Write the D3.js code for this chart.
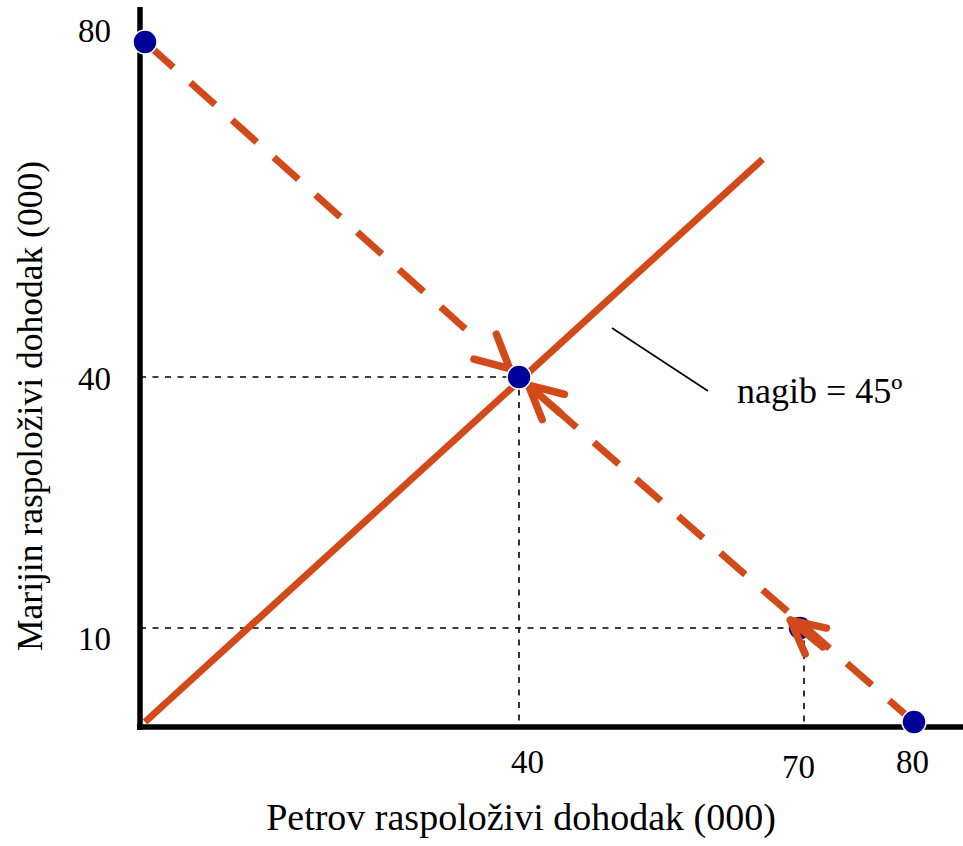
<!DOCTYPE html>
<html>
<head>
<meta charset="utf-8">
<script src="https://cdn.jsdelivr.net/npm/d3@7"></script>
<style>
  html, body { margin: 0; padding: 0; background: #fff; }
  svg { display: block; }
  text { font-family: "Liberation Serif", "Times New Roman", serif; fill: #000; }
</style>
</head>
<body>
<div id="chart"></div>
<script>
// Data (thousands)
const xTicks = [40, 70, 80];
const yTicks = [10, 40, 80];
// income points: all to Maria, equal split, Peter 70 / Maria 10, all to Peter
const points = [
  { id: "A", x: 0, y: 80 },
  { id: "E", x: 40, y: 40 },
  { id: "B", x: 70, y: 10 },
  { id: "C", x: 80, y: 0 }
];
// dashed budget moves towards the equal split
const moves = [
  { from: [0, 80], to: [40, 40] },
  { from: [80, 0], to: [40, 40] }
];
// arrowheads: [on point, coming from]
const arrows = [
  { at: [40, 40], from: [0, 80], shaft: false, side: "before" },
  { at: [40, 40], from: [80, 0], shaft: true, side: "before" },
  { at: [70, 10], from: [80, 0], shaft: true, side: "after" }
];
// 45 degree line
const diagonal = [[0, 0], [66, 66]];
const guides = [[40, 40], [70, 10]];
const xTitle = "Petrov raspoloživi dohodak (000)";
const yTitle = "Marijin raspoloživi dohodak (000)";
const note = "nagib = 45º";

// Layout
const width = 963, height = 846;
const axisX = 140, axisY = 727;
const orange = "#d24a1a", navy = "#000099";

const svg = d3.select("#chart").append("svg")
  .attr("width", width).attr("height", height);

// the drawing is not perfectly linear, so piecewise scales
const x = d3.scaleLinear().domain([0, 40, 70, 80]).range([145, 519, 800, 914]);
const y = d3.scaleLinear().domain([0, 10, 40, 80]).range([722, 628, 377, 42]);

const line = d3.line().x(d => x(d[0])).y(d => y(d[1]));

// dashed guide lines to the axes
const gGuides = svg.append("g")
  .attr("stroke", "#000").attr("stroke-width", 1.6)
  .attr("stroke-dasharray", "6,6.5").attr("fill", "none");
guides.forEach(g => {
  gGuides.append("line")
    .attr("x1", axisX).attr("y1", y(g[1]))
    .attr("x2", x(g[0]) - 8).attr("y2", y(g[1]));
  gGuides.append("line")
    .attr("x1", x(g[0]) + (g[0] === 70 ? 4 : 0)).attr("y1", y(g[1]))
    .attr("x2", x(g[0]) + (g[0] === 70 ? 4 : 0)).attr("y2", axisY);
});

// axes frame
svg.append("line")
  .attr("x1", axisX).attr("y1", 7).attr("x2", axisX).attr("y2", axisY + 3)
  .attr("stroke", "#000").attr("stroke-width", 5.5);
svg.append("line")
  .attr("x1", axisX - 3).attr("y1", axisY).attr("x2", width).attr("y2", axisY)
  .attr("stroke", "#000").attr("stroke-width", 5.5);

// 45 degree line
svg.append("path")
  .attr("d", line(diagonal))
  .attr("fill", "none").attr("stroke", orange).attr("stroke-width", 7);

// point under the arrow
const dot = (sel) => sel
  .attr("cx", d => x(d.x)).attr("cy", d => y(d.y)).attr("r", 12)
  .attr("fill", navy).attr("stroke", "#fff").attr("stroke-width", 1.5);
svg.append("g").selectAll("circle")
  .data(points.filter(p => p.id === "B"))
  .join("circle").call(dot);

// dashed moves
const unit = (a, b) => {
  const dx = x(b[0]) - x(a[0]), dy = y(b[1]) - y(a[1]);
  const l = Math.hypot(dx, dy);
  return [dx / l, dy / l, l];
};
moves.forEach((m, i) => {
  const [ux, uy, len] = unit(m.from, m.to);
  const trim = i === 0 ? 60 : 12;
  svg.append("line")
    .attr("x1", x(m.from[0])).attr("y1", y(m.from[1]))
    .attr("x2", x(m.from[0]) + ux * (len - trim))
    .attr("y2", y(m.from[1]) + uy * (len - trim))
    .attr("stroke", orange).attr("stroke-width", 7)
    .attr("stroke-dasharray", "33,23").attr("stroke-dashoffset", i === 0 ? 51 : 0);
});

// arrowheads
const rot = (v, a) => [v[0] * Math.cos(a) - v[1] * Math.sin(a), v[0] * Math.sin(a) + v[1] * Math.cos(a)];
const gArrows = svg.append("g")
  .attr("fill", "none").attr("stroke", orange).attr("stroke-width", 7.5)
  .attr("stroke-linecap", "round").attr("stroke-linejoin", "round");
arrows.forEach(a => {
  const [ux, uy] = unit(a.from, a.at);
  const off = a.side === "before" ? -12.5 : 12.5;
  const tip = [x(a.at[0]) + ux * off, y(a.at[1]) + uy * off];
  const back = [-ux, -uy];
  const L = 37, ang = 27 * Math.PI / 180;
  const b1 = rot(back, ang), b2 = rot(back, -ang);
  let d = `M${tip[0] + b1[0] * L},${tip[1] + b1[1] * L}L${tip[0]},${tip[1]}L${tip[0] + b2[0] * L},${tip[1] + b2[1] * L}`;
  if (a.shaft) d += `M${tip[0]},${tip[1]}L${tip[0] + back[0] * 42},${tip[1] + back[1] * 42}`;
  gArrows.append("path").attr("d", d);
});

// remaining points on top
svg.append("g").selectAll("circle")
  .data(points.filter(p => p.id !== "B"))
  .join("circle").call(dot);

// tick labels
const yNudge = { 80: -12, 40: 1, 10: 10 };
const gy = svg.append("g").attr("transform", `translate(${axisX},0)`)
  .call(d3.axisLeft(y).tickValues(yTicks).tickSize(0).tickPadding(29).tickFormat(d3.format("d")));
gy.select(".domain").remove();
gy.selectAll("text")
  .attr("font-family", null).attr("font-size", 33)
  .attr("dy", d => 11 + yNudge[d]);

const xNudge = { 40: 8, 70: -2, 80: -2 };
const xBase = { 40: 46, 70: 51, 80: 46 };
const gx = svg.append("g").attr("transform", `translate(0,${axisY})`)
  .call(d3.axisBottom(x).tickValues(xTicks).tickSize(0).tickPadding(0).tickFormat(d3.format("d")));
gx.select(".domain").remove();
gx.selectAll("text")
  .attr("font-family", null).attr("font-size", 33)
  .attr("y", d => xBase[d]).attr("dy", 0)
  .attr("x", d => xNudge[d]);

// axis titles
svg.append("text")
  .attr("x", 521).attr("y", 830)
  .attr("text-anchor", "middle").attr("font-size", 38)
  .text(xTitle);
svg.append("text")
  .attr("transform", "translate(42,406) rotate(-90)")
  .attr("text-anchor", "middle").attr("font-size", 35.5)
  .text(yTitle);

// slope annotation
svg.append("line")
  .attr("x1", 612).attr("y1", 328).attr("x2", 708).attr("y2", 391)
  .attr("stroke", "#000").attr("stroke-width", 1.6);
svg.append("text")
  .attr("x", 737).attr("y", 403).attr("font-size", 36)
  .text(note);
</script>
</body>
</html>
